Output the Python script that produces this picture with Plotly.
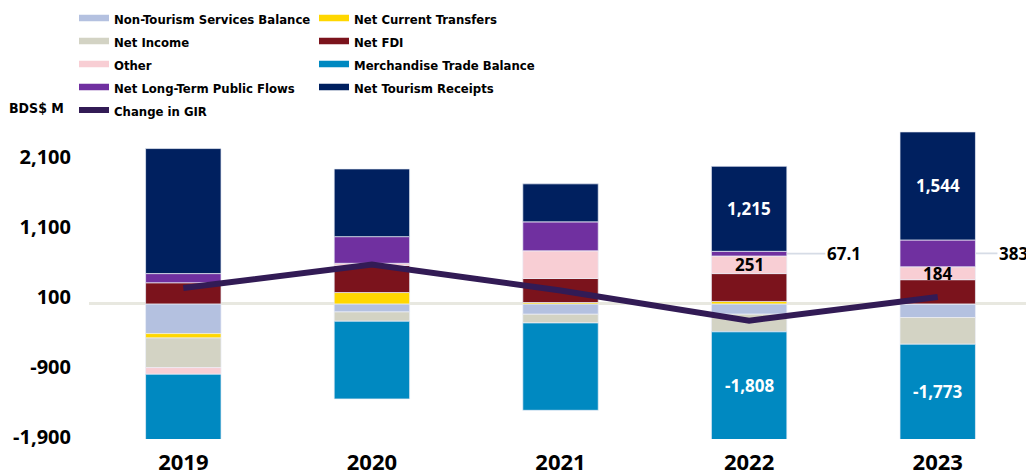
import plotly.graph_objects as go

# ---- data (BDS$ millions) ----
years = ["2019", "2020", "2021", "2022", "2023"]

non_tourism_services = [-424, -115, -148, -147, -195]
net_current_transfers = [-63, 162, 20, 35, 0]
net_income = [-423, -133, -124, -252, -381]
net_fdi = [302, 388, 343, 398, 346]
other = [-95, 30, 395, 251, 184]
merchandise_trade = [-1650, -1110, -1248, -1808, -1773]
lt_public_flows = [131, 381, 414, 67.1, 383]
net_tourism = [1786, 967, 543, 1215, 1544]
change_in_gir = [228, 562, 191, -240, 100]

ytick_vals = [-1900, -900, 100, 1100, 2100]
ytick_text = ["-1,900", "-900", "100", "1,100", "2,100"]

# ---- styling ----
W, H = 1026, 476
M_L, M_R, M_T, M_B = 89, 0, 125, 37
Y_MIN = -1930
Y_MAX = Y_MIN + (H - M_T - M_B) / 0.07
X_RANGE = [-0.5, 4.468]

NUM_FONT = "Open Sans, Noto Sans, DejaVu Sans, sans-serif"
LEG_FONT = "DejaVu Sans Condensed, Liberation Sans Narrow, sans-serif"
LEG_TEXT_PX = 13

series = [
    ("Non-Tourism Services Balance", non_tourism_services, "#B4C1E0", "legend"),
    ("Net Current Transfers", net_current_transfers, "#FFD700", "legend2"),
    ("Net Income", net_income, "#D3D3C4", "legend"),
    ("Net FDI", net_fdi, "#7B131C", "legend2"),
    ("Other", other, "#F8CED4", "legend"),
    ("Merchandise Trade Balance", merchandise_trade, "#0089C1", "legend2"),
    ("Net Long-Term Public Flows", lt_public_flows, "#7030A0", "legend"),
    ("Net Tourism Receipts", net_tourism, "#00205F", "legend2"),
]
GIR_NAME = "Change in GIR"
GIR_COLOR = "#321B55"


def leg_label(text):
    return f'<span style="font-size:{LEG_TEXT_PX}px">{text}</span>'


fig = go.Figure()

# stacked bars (relative mode: positives stack up, negatives stack down)
for name, vals, color, _ in series:
    fig.add_trace(go.Bar(
        x=years, y=vals, name=name, showlegend=False,
        marker=dict(color=color, line=dict(color="rgba(235,238,246,0.9)", width=0.8)),
        hovertemplate="%{x}: %{y}<extra>" + name + "</extra>",
    ))

# legend entries drawn as flat colour strips
for name, vals, color, leg in series:
    fig.add_trace(go.Scatter(
        x=[None], y=[None], mode="lines", name=leg_label(name), legend=leg,
        line=dict(color=color, width=6.5), hoverinfo="skip",
    ))

fig.add_trace(go.Scatter(
    x=years, y=change_in_gir, mode="lines", name=leg_label(GIR_NAME),
    legend="legend", line=dict(color=GIR_COLOR, width=6),
    hovertemplate="%{x}: %{y}<extra>" + GIR_NAME + "</extra>",
))

# segment positions, for the value labels
bases = {}
pos = [0.0] * len(years)
neg = [0.0] * len(years)
for name, vals, _, _ in series:
    b = []
    for i, v in enumerate(vals):
        if v >= 0:
            b.append(pos[i]); pos[i] += v
        else:
            b.append(neg[i]); neg[i] += v
    bases[name] = b


def seg_mid(name, vals, i):
    lo = bases[name][i]
    hi = max(lo + vals[i], Y_MIN)
    return (lo + hi) / 2


def fmt(v):
    if float(v).is_integer():
        return f"{int(v):,}"
    return f"{v:,.1f}"


label_font = dict(family=NUM_FONT, size=17, weight="bold")
annotations = []
for i in (3, 4):
    annotations.append(dict(
        x=i, y=seg_mid("Net Tourism Receipts", net_tourism, i),
        text=fmt(net_tourism[i]), showarrow=False,
        font=dict(label_font, color="white")))
    annotations.append(dict(
        x=i, y=seg_mid("Merchandise Trade Balance", merchandise_trade, i),
        text=fmt(merchandise_trade[i]), showarrow=False,
        font=dict(label_font, color="white")))
    annotations.append(dict(
        x=i, y=seg_mid("Other", other, i),
        text=fmt(other[i]), showarrow=False,
        font=dict(label_font, color="black")))
    # long-term public flows: label to the right with a leader line
    annotations.append(dict(
        x=i + 0.2, y=seg_mid("Net Long-Term Public Flows", lt_public_flows, i),
        text=fmt(lt_public_flows[i]), showarrow=True,
        arrowhead=0, arrowwidth=1.6, arrowcolor="#D6DCE6",
        ax=57 if i == 3 else 38, ay=0,
        font=dict(label_font, color="black")))

plot_h = H - M_T - M_B
plot_w = W - M_L - M_R


def paper_x(px):
    return (px - M_L) / plot_w


def paper_y(py):
    return (H - M_B - py) / plot_h


annotations.append(dict(
    xref="paper", yref="paper", x=paper_x(7), y=paper_y(108),
    xanchor="left", yanchor="middle", text="BDS$ M", showarrow=False,
    font=dict(family=LEG_FONT, size=14, weight="bold", color="black")))

legend_common = dict(
    orientation="v", xanchor="left", yanchor="top",
    bgcolor="rgba(0,0,0,0)", borderwidth=0, traceorder="normal",
    font=dict(family=LEG_FONT, size=15.4, weight="bold", color="black"),
    itemwidth=30, tracegroupgap=0,
)

fig.update_layout(
    width=W, height=H,
    margin=dict(l=M_L, r=M_R, t=M_T, b=M_B, autoexpand=False),
    barmode="relative", bargap=0.6,
    paper_bgcolor="white", plot_bgcolor="white",
    legend=dict(legend_common, x=paper_x(74), y=paper_y(1.5)),
    legend2=dict(legend_common, x=paper_x(314), y=paper_y(1.5)),
    annotations=annotations,
    xaxis=dict(
        type="category", range=X_RANGE, showgrid=False, showline=False,
        ticks="", ticklabelstandoff=8,
        tickfont=dict(family=NUM_FONT, size=22, weight="bold", color="black"),
    ),
    yaxis=dict(
        range=[Y_MIN, Y_MAX], showgrid=False, showline=False,
        zeroline=True, zerolinecolor="#E8E8E0", zerolinewidth=2.5,
        tickmode="array", tickvals=ytick_vals, ticktext=ytick_text,
        ticks="", ticklabelstandoff=17,
        tickfont=dict(family=NUM_FONT, size=20, weight="bold", color="black"),
    ),
    showlegend=True,
)

fig.write_html("out.html")
